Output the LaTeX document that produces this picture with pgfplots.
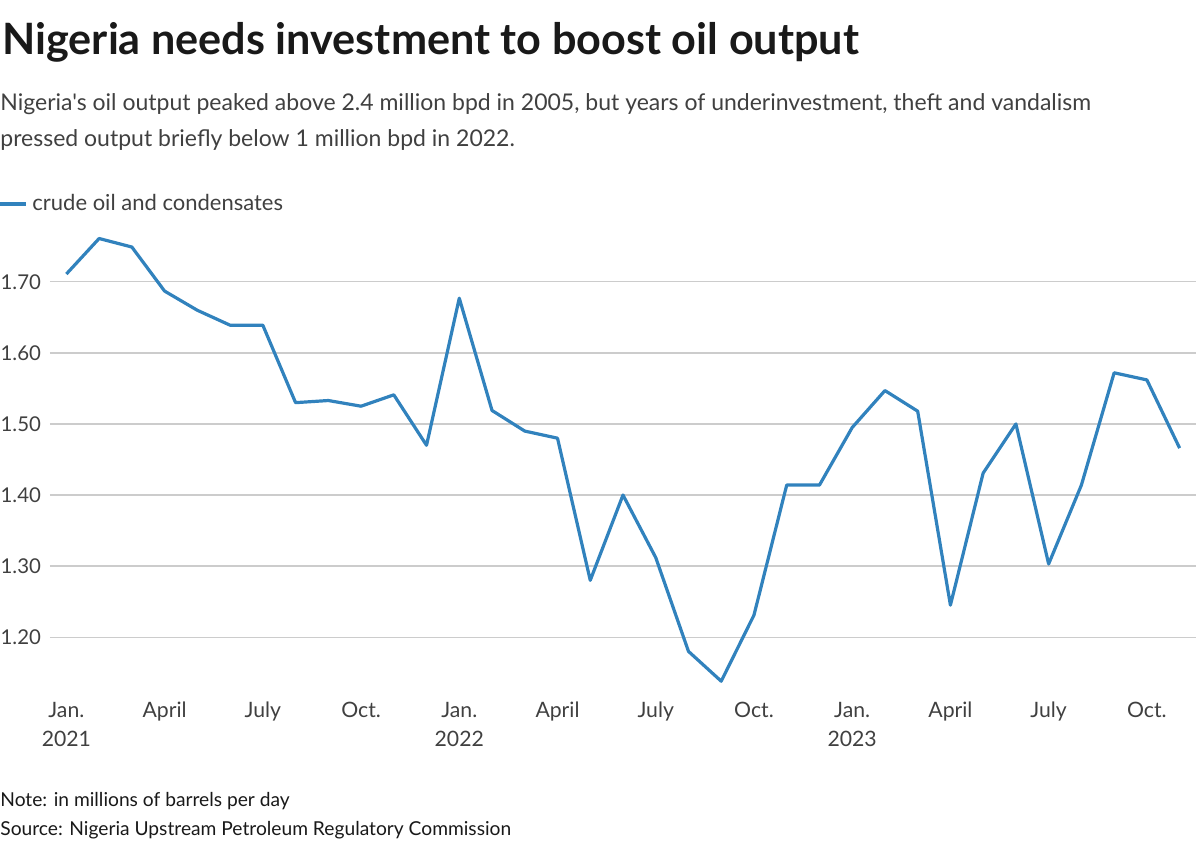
\documentclass[border=0pt]{standalone}
\usepackage{fontspec}
\setmainfont{Lato}[Ligatures=TeXOff]
\usepackage{pgfplots}
\pgfplotsset{compat=1.18}
\definecolor{lineblue}{RGB}{49,130,189}
\definecolor{gridgray}{RGB}{204,204,204}
\definecolor{titlecol}{RGB}{25,25,25}
\definecolor{textcol}{RGB}{64,64,64}
\begin{document}
\begin{tikzpicture}
\path[use as bounding box] (0,0) rectangle (600pt,-422.5pt);
\node[anchor=base west, inner sep=0pt, text=titlecol, font=\fontsize{21.6}{24}\selectfont\bfseries] at (1pt,-27.5pt) {Nigeria needs investment to boost oil output};
\node[anchor=base west, inner sep=0pt, text=textcol, font=\fontsize{11.5}{14}\selectfont] at (0pt,-55.5pt) {Nigeria's oil output peaked above 2.4 million bpd in 2005, but years of underinvestment, theft and vandalism};
\node[anchor=base west, inner sep=0pt, text=textcol, font=\fontsize{11.5}{14}\selectfont] at (0pt,-73.5pt) {pressed output briefly below 1 million bpd in 2022.};
\draw[line width=1.6pt, lineblue] (0pt,-102pt) -- (13pt,-102pt);
\node[anchor=base west, inner sep=0pt, text=textcol, font=\fontsize{11}{13}\selectfont] at (16pt,-105.5pt) {crude oil and condensates};
\begin{axis}[
  at={(25pt,-347pt)}, anchor=south west,
  scale only axis, width=573pt, height=234.5pt,
  xmin=-0.5, xmax=34.5, ymin=1.12, ymax=1.78,
  axis line style={draw=none},
  major tick length=0pt,
  ymajorgrids, grid style={gridgray, line width=0.6pt},
  ytick={1.2,1.3,1.4,1.5,1.6,1.7},
  /pgf/number format/fixed, /pgf/number format/fixed zerofill, /pgf/number format/precision=2,
  /pgf/number format/assume math mode=true,
  yticklabel style={font=\fontsize{10.2}{12}\selectfont, text=textcol, anchor=east, xshift=-1pt},
  xtick={0,3,6,9,12,15,18,21,24,27,30,33},
  xticklabels={Jan.\\2021,April,July,Oct.,Jan.\\2022,April,July,Oct.,Jan.\\2023,April,July,Oct.},
  xticklabel style={font=\fontsize{10.6}{14.5}\selectfont, text=textcol, align=center, anchor=north, yshift=-0.5pt},
  clip=false,
]
\addplot[lineblue, line width=1.6pt, line join=round] coordinates {
(0,1.711) (1,1.761) (2,1.749) (3,1.687) (4,1.660) (5,1.639) (6,1.639)
(7,1.530) (8,1.533) (9,1.525) (10,1.541) (11,1.470)
(12,1.677) (13,1.519) (14,1.490) (15,1.480) (16,1.280) (17,1.400)
(18,1.312) (19,1.180) (20,1.138) (21,1.231) (22,1.414) (23,1.414)
(24,1.495) (25,1.547) (26,1.518) (27,1.245) (28,1.431) (29,1.500)
(30,1.303) (31,1.414) (32,1.572) (33,1.562) (34,1.466)
};
\end{axis}
\node[anchor=base west, inner sep=0pt, text=titlecol, font=\fontsize{9.6}{11}\selectfont] at (0pt,-403pt) {Note: in millions of barrels per day};
\node[anchor=base west, inner sep=0pt, text=titlecol, font=\fontsize{9.6}{11}\selectfont] at (0pt,-417.5pt) {Source: Nigeria Upstream Petroleum Regulatory Commission};
\end{tikzpicture}
\end{document}
